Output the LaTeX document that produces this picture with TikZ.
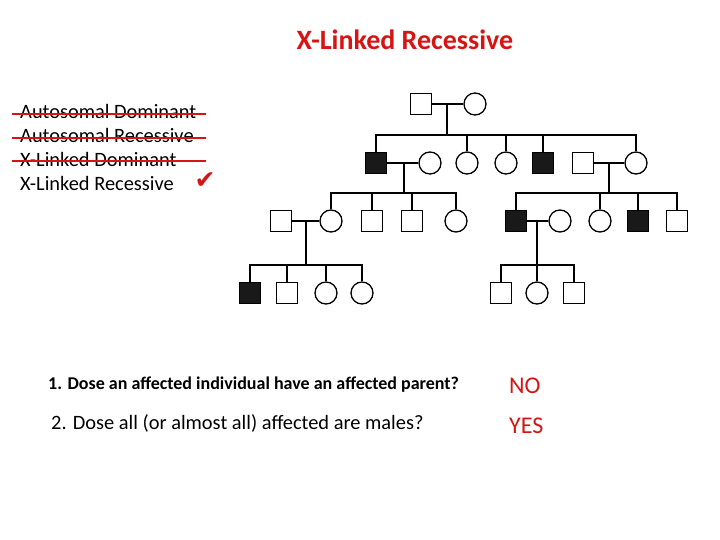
\documentclass[tikz,border=0pt]{standalone}
\usepackage{fontspec}
\setmainfont{Carlito}
\newfontfamily\symfont{DejaVu Sans}
\definecolor{redtxt}{RGB}{215,20,20}
\begin{document}
\begin{tikzpicture}[x=1pt,y=-1pt,
  male/.style={draw, rectangle, minimum size=21pt, inner sep=0pt, line width=1.3pt},
  female/.style={draw, circle, minimum size=22pt, inner sep=0pt, line width=1.3pt},
  aff/.style={fill=black!90},
  link/.style={line width=1.4pt},
  strike/.style={draw=redtxt, line width=1.6pt},
  lbl/.style={anchor=west, inner sep=0pt, font=\fontsize{20.4}{24}\selectfont}]
\useasboundingbox (0,0) rectangle (720,540);
\node[font=\bfseries\fontsize{28}{32}\selectfont, text=redtxt] (title) at (405,40) {X-Linked Recessive};
% list
\node[lbl] (l1) at (20,111) {Autosomal Dominant};
\node[lbl] (l2) at (20,135) {Autosomal Recessive};
\node[lbl] (l3) at (20,159) {X-Linked Dominant};
\node[lbl] (l4) at (20,183) {X-Linked Recessive};
\coordinate (a1) at (12,114); \coordinate (b1) at (206,114);
\coordinate (a2) at (12,138); \coordinate (b2) at (206,138);
\coordinate (a3) at (12,161); \coordinate (b3) at (206,161);
\draw[strike] (a1) -- (b1);
\draw[strike] (a2) -- (b2);
\draw[strike] (a3) -- (b3);
\node[text=redtxt, font=\symfont\fontsize{25}{27}\selectfont] (chk) at (205,181) {✔};
% Gen I
\node[male] (m1) at (421,104) {};
\node[female] (f1) at (475,104) {};
\draw[link] (m1.east) -- (f1.west);
\coordinate (j1) at (447,104); \coordinate (s1) at (447,135);
\draw[link] (j1) -- (s1);
% Gen II
\node[male,aff] (a) at (376,163) {};
\node[female] (w) at (430,163) {};
\node[female] (b) at (467,163) {};
\node[female] (c) at (506,163) {};
\node[male,aff] (d) at (543,163) {};
\node[male] (h) at (583,163) {};
\node[female] (e) at (636,163) {};
\foreach \n in {a,b,c,d,e} \draw[link] (\n.north) |- (s1);
\draw[link] (a.east) -- (w.west);
\draw[link] (h.east) -- (e.west);
\coordinate (j2) at (404,163); \coordinate (s2) at (404,193);
\coordinate (j3) at (609,163); \coordinate (s3) at (609,193);
\draw[link] (j2) -- (s2);
\draw[link] (j3) -- (s3);
% Gen III left
\node[male] (hm) at (281,221) {};
\node[female] (g1) at (331,221) {};
\node[male] (g2) at (372,221) {};
\node[male] (g3) at (412,221) {};
\node[female] (g4) at (456,221) {};
\foreach \n in {g1,g2,g3,g4} \draw[link] (\n.north) |- (s2);
\draw[link] (hm.east) -- (g1.west);
% Gen III right
\node[male,aff] (r1) at (516,221) {};
\node[female] (rw) at (560,221) {};
\node[female] (r2) at (600,221) {};
\node[male,aff] (r3) at (638,221) {};
\node[male] (r4) at (677,221) {};
\foreach \n in {r1,r2,r3,r4} \draw[link] (\n.north) |- (s3);
\draw[link] (r1.east) -- (rw.west);
\coordinate (j4) at (306,221); \coordinate (s4) at (306,265);
\coordinate (j5) at (537,221); \coordinate (s5) at (537,265);
\draw[link] (j4) -- (s4);
\draw[link] (j5) -- (s5);
% Gen IV
\node[male,aff] (k1) at (250,293) {};
\node[male] (k2) at (287,293) {};
\node[female] (k3) at (326,293) {};
\node[female] (k4) at (362,293) {};
\foreach \n in {k1,k2,k3,k4} \draw[link] (\n.north) |- (s4);
\node[male] (q1) at (501,293) {};
\node[female] (q2) at (537,293) {};
\node[male] (q3) at (574,293) {};
\foreach \n in {q1,q2,q3} \draw[link] (\n.north) |- (s5);
% questions
\node[anchor=west, inner sep=0pt, font=\bfseries\fontsize{18}{21}\selectfont] (q1t) at (48,385) {1. Dose an affected individual have an affected parent?};
\node[anchor=west, inner sep=0pt, font=\fontsize{20.4}{24}\selectfont] (q2t) at (51,423) {2. Dose all (or almost all) affected are males?};
\node[anchor=west, inner sep=0pt, text=redtxt, font=\fontsize{24}{28}\selectfont] (no) at (509,386) {NO};
\node[anchor=west, inner sep=0pt, text=redtxt, font=\fontsize{24}{28}\selectfont] (yes) at (509,426) {YES};
\end{tikzpicture}
\end{document}
